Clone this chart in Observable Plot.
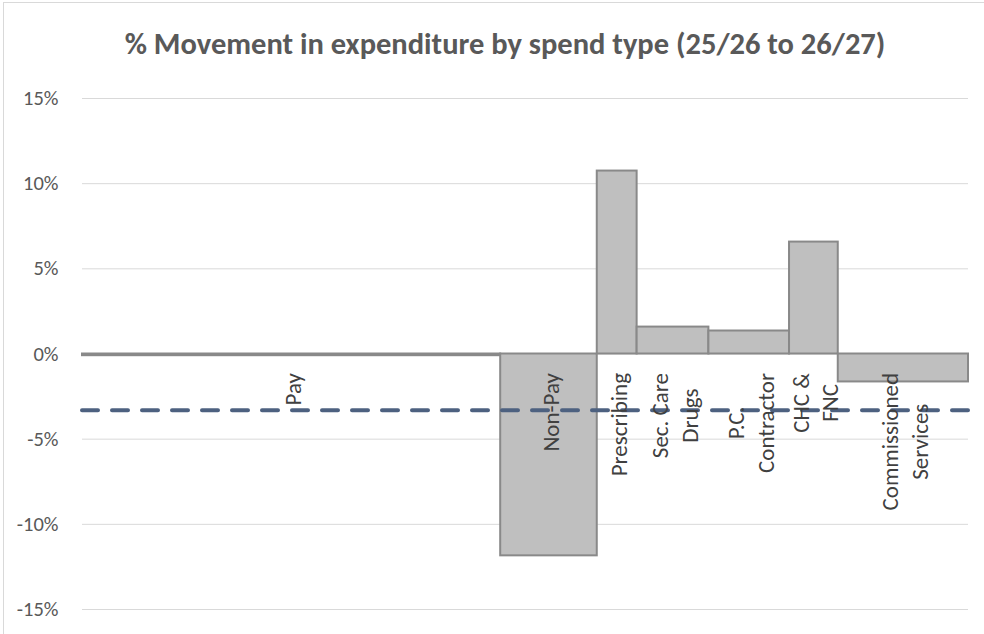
<!DOCTYPE html>
<html>
<head>
<meta charset="utf-8">
<script src="https://cdn.jsdelivr.net/npm/d3@7"></script>
<script src="https://cdn.jsdelivr.net/npm/@observablehq/plot@0.6"></script>
<style>
  html, body { margin: 0; padding: 0; background: #fff; overflow: hidden; width: 984px; height: 634px; }
  #frame { position: absolute; left: 3px; top: 2px; width: 1100px; height: 800px; border: 1px solid #d9d9d9; box-sizing: border-box; }
  #title { position: absolute; left: 0; width: 1010px; top: 26px; line-height: 36px; text-align: center; font-family: Carlito, Lato, sans-serif; font-weight: bold; font-size: 30.5px; color: #595959; white-space: nowrap; }
  #chart { position: absolute; left: 0; top: 0; }
</style>
</head>
<body>
<div id="frame"></div>
<div id="chart"></div>
<div id="title">% Movement in expenditure by spend type (25/26 to 26/27)</div>
<script>
const categories = ["Pay", "Non-Pay", "Prescribing", "Sec. Care\nDrugs", "P.C.\nContractor", "CHC &\nFNC", "Commissioned\nServices"];
const movement = [-0.001, -0.1185, 0.1074, 0.0158, 0.0135, 0.0657, -0.0164];
const spendShare = [47.2, 10.9, 4.5, 8.1, 9.1, 5.5, 14.7];
const averageMovement = -0.033;
const yTicks = [-0.15, -0.10, -0.05, 0, 0.05, 0.10, 0.15];

let cum = 0;
const rows = categories.map((c, i) => {
  const x1 = cum;
  cum += spendShare[i];
  return {category: c, value: movement[i], x1, x2: cum, mid: (x1 + cum) / 2};
});

const font = "Carlito, Lato, sans-serif";
const pct = d => `${Math.round(d * 100)}%`;

const chart = Plot.plot({
  width: 984,
  height: 634,
  marginLeft: 82,
  marginRight: 16,
  marginTop: 98,
  marginBottom: 25,
  style: {fontFamily: font, background: "transparent", overflow: "visible"},
  x: {domain: [0, cum], axis: null},
  y: {domain: [-0.15, 0.15], axis: null},
  marks: [
    Plot.ruleY(yTicks, {stroke: "#d9d9d9", strokeWidth: 1}),
    Plot.axisY({ticks: yTicks, tickFormat: pct, tickSize: 0, tickPadding: 24, label: null, fontSize: 20.5, fill: "#595959", fontFamily: font}),
    Plot.rect(rows, {x1: "x1", x2: "x2", y1: () => 0, y2: "value", fill: "#bfbfbf", stroke: "#898989", strokeWidth: 2}),
    Plot.ruleY([averageMovement], {stroke: "#4d6180", strokeWidth: 4, strokeDasharray: "16,14", strokeLinecap: "round"}),
    Plot.text(rows, {x: "mid", y: () => 0, text: "category", rotate: -90, dy: 19, textAnchor: "middle", lineHeight: 1.3, fontSize: 23, fill: "#404040", fontFamily: font})
  ]
});
document.getElementById("chart").appendChild(chart);

// Align rotated labels: lines centred on each other, longest line ending at the anchor
d3.select(chart).selectAll("text").each(function() {
  const tr = this.getAttribute("transform") || "";
  if (!/rotate/.test(tr)) return;
  const t = d3.select(this);
  const spans = t.selectAll("tspan");
  let L = 0;
  if (spans.size()) {
    spans.each(function() { L = Math.max(L, this.getComputedTextLength()); });
    spans.attr("x", -L / 2);
  } else {
    L = this.getComputedTextLength();
    t.attr("x", -L / 2);
  }
});
</script>
</body>
</html>
